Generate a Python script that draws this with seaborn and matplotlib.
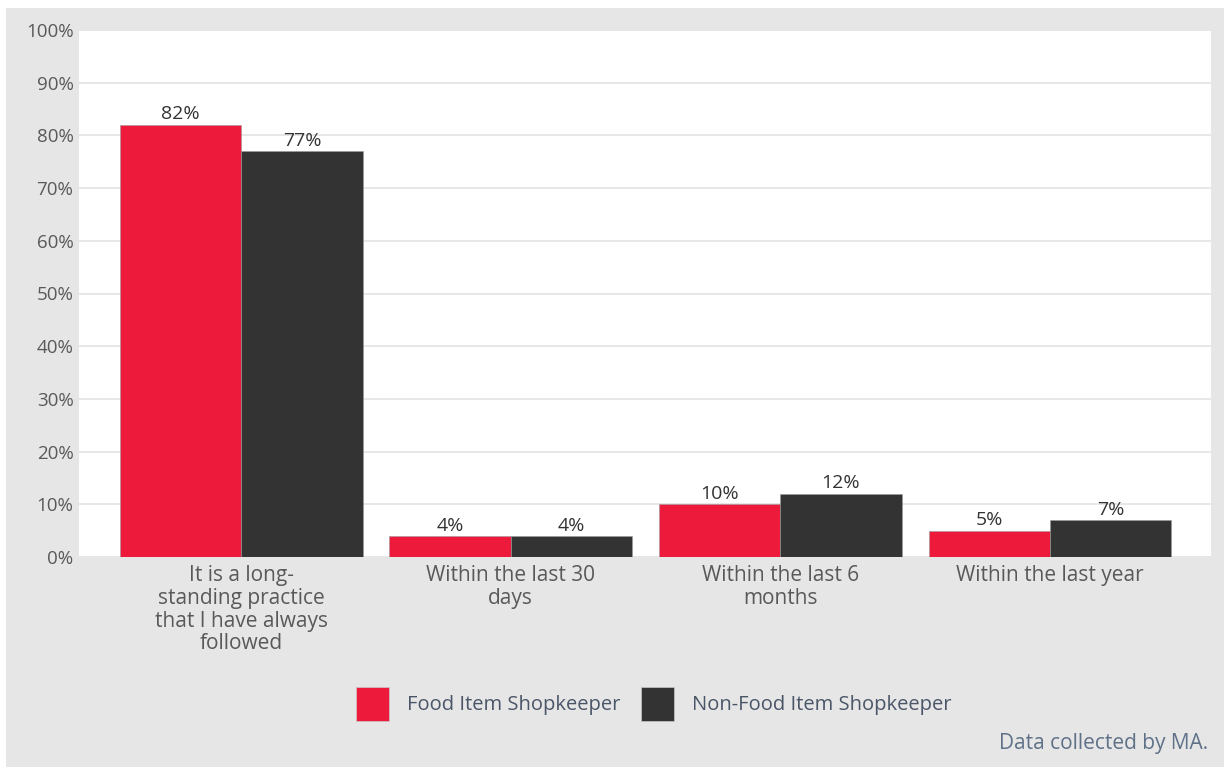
import matplotlib
matplotlib.use("Agg")
import matplotlib.pyplot as plt
from matplotlib.patches import Rectangle, Patch
import seaborn as sns
import pandas as pd

categories = [
    "It is a long-\nstanding practice\nthat I have always\nfollowed",
    "Within the last 30\ndays",
    "Within the last 6\nmonths",
    "Within the last year",
]
series_names = ["Food Item Shopkeeper", "Non-Food Item Shopkeeper"]
food_values = [82, 4, 10, 5]
nonfood_values = [77, 4, 12, 7]
y_ticks = list(range(0, 101, 10))

colors = ["#ee1a3b", "#333333"]

df = pd.DataFrame({
    "category": categories * 2,
    "group": [series_names[0]] * 4 + [series_names[1]] * 4,
    "value": food_values + nonfood_values,
})

sns.set_theme(style="white")
plt.rcParams["font.family"] = ["Open Sans", "DejaVu Sans"]

W, H, DPI = 1224, 767, 100
fig = plt.figure(figsize=(W / DPI, H / DPI), dpi=DPI, facecolor="white")

# grey panel behind everything
fig.patches.append(Rectangle((6 / W, 0), 1 - 6 / W, 1 - 8 / H,
                             transform=fig.transFigure, facecolor="#e6e6e6",
                             edgecolor="none", zorder=-10))

ax = fig.add_axes([79 / W, 1 - 557 / H, (1211 - 79) / W, (557 - 30) / H])
ax.set_facecolor("white")

sns.barplot(data=df, x="category", y="value", hue="group",
            palette=colors, saturation=1, width=0.9, ax=ax, legend=False,
            edgecolor="#9a9a9a", linewidth=0.4, zorder=3)

for cont in ax.containers:
    ax.bar_label(cont, fmt="%d%%", padding=1, fontsize=14, color="#333333")

ax.set_ylim(0, 100)
ax.set_xlim(-0.602, 3.598)
ax.set_yticks(y_ticks)
ax.set_yticklabels([f"{v}%" for v in y_ticks], fontsize=13.5, color="#595959")
ax.set_xticks(range(len(categories)))
ax.set_xticklabels(categories, fontsize=15, color="#595959", linespacing=1.1)
ax.tick_params(axis="x", length=6, width=0.8, color="#b0b0b0", pad=0, direction="out")
ax.tick_params(axis="y", length=0, pad=4)
ax.yaxis.grid(True, color="#e3e3e3", linewidth=1.2, zorder=0)
ax.set_axisbelow(True)
ax.set_xlabel("")
ax.set_ylabel("")
for s in ax.spines.values():
    s.set_visible(False)

handles = [Patch(facecolor=c, edgecolor="#c8c8c8", linewidth=0.5) for c in colors]
fig.legend(handles, series_names, loc="center", bbox_to_anchor=(654 / W, 1 - 704 / H),
           ncol=2, frameon=False, fontsize=14.5, labelcolor="#4a5568",
           handlelength=1.65, handleheight=2.2, handletextpad=0.9, columnspacing=1.0)

fig.text(1208 / W, 1 - 744 / H, "Data collected by MA.", ha="right", va="center",
         fontsize=15, color="#5f7188")

fig.savefig("out.png", dpi=DPI, facecolor=fig.get_facecolor())
